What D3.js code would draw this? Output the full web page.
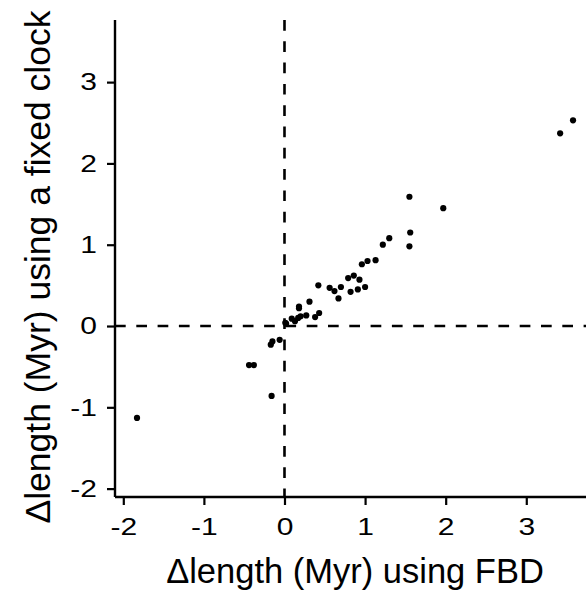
<!DOCTYPE html>
<html>
<head>
<meta charset="utf-8">
<script src="https://cdn.jsdelivr.net/npm/d3@7"></script>
<style>
  html, body { margin: 0; padding: 0; background: #fff; }
  svg { display: block; }
  text { font-family: "Liberation Sans", Arial, Helvetica, sans-serif; fill: #000; }
</style>
</head>
<body>
<svg id="chart" width="586" height="590"></svg>
<script>
// Δlength (Myr) using FBD
const fbd = [1.55, 1.97, 1.56, 1.55, 1.30, 1.22, 1.13, 1.03, 0.96, 0.86, 0.79, 0.93,
             1.00, 0.91, 0.82, 0.70, 0.56, 0.62, 0.67, 0.42, 0.31, 0.18, 0.18, 0.27,
             0.43, 0.38, 0.20, 0.17, 0.09, 0.13, 0.01, 0.02, -0.06, -0.15, -0.17,
             -0.44, -0.38, -0.16, 3.58, 3.42, -1.83];
// Δlength (Myr) using a fixed clock
const fixedClock = [1.59, 1.45, 1.15, 0.98, 1.08, 1.00, 0.81, 0.80, 0.76, 0.62, 0.59, 0.57,
             0.48, 0.45, 0.42, 0.48, 0.47, 0.43, 0.34, 0.50, 0.30, 0.24, 0.22, 0.13,
             0.16, 0.11, 0.12, 0.10, 0.09, 0.06, 0.04, 0.03, -0.17, -0.19, -0.23,
             -0.48, -0.48, -0.86, 2.53, 2.37, -1.13];
const xTicks = [-2, -1, 0, 1, 2, 3];
const yTicks = [-2, -1, 0, 1, 2, 3];
const xLabel = "Δlength (Myr) using FBD";
const yLabel = "Δlength (Myr) using a fixed clock";

const points = fbd.map((d, i) => ({x: d, y: fixedClock[i]}));

const svg = d3.select("#chart");
const plotLeft = 115, plotRight = 586, plotTop = 20, plotBottom = 497;
const tickStretch = 1.25;

const x = d3.scaleLinear().domain([-2.103, 3.741]).range([plotLeft, plotRight]);
const y = d3.scaleLinear().domain([-2.103, 3.764]).range([plotBottom, plotTop]);

// reference lines
svg.append("line")
  .attr("x1", x(0)).attr("x2", x(0))
  .attr("y1", y.range()[1]).attr("y2", y.range()[0])
  .attr("stroke", "#000").attr("stroke-width", 2.6)
  .attr("stroke-dasharray", "10.7,10.6");
svg.append("line")
  .attr("x1", x.range()[0]).attr("x2", x.range()[1])
  .attr("y1", y(0)).attr("y2", y(0))
  .attr("stroke", "#000").attr("stroke-width", 2.6)
  .attr("stroke-dasharray", "10.7,10.6");

// axes
const xAxis = d3.axisBottom(x).tickValues(xTicks).tickFormat(d => String(d)).tickSize(8).tickPadding(13);
const yAxis = d3.axisLeft(y).tickValues(yTicks).tickFormat(d => String(d)).tickSize(8).tickPadding(10);

const gx = svg.append("g").attr("transform", `translate(0,${plotBottom})`).call(xAxis);
const gy = svg.append("g").attr("transform", `translate(${plotLeft},0)`).call(yAxis);

[gx, gy].forEach(g => {
  g.attr("font-size", null).attr("font-family", null);
  g.select(".domain").attr("stroke", "#000").attr("stroke-width", 2.4);
  g.selectAll(".tick line").attr("stroke", "#000").attr("stroke-width", 2.2);
  g.selectAll(".tick text").attr("fill", "#000")
    .style("font-size", "24px")
    .style("font-family", '"Liberation Sans", Arial, sans-serif');
});
gx.selectAll(".tick text").attr("transform", `scale(${tickStretch},1)`);
gy.selectAll(".tick text")
  .attr("x", -18 / tickStretch)
  .attr("transform", `scale(${tickStretch},1)`);
gx.select(".domain").attr("d", `M${plotLeft},0H${plotRight}`);
gy.select(".domain").attr("d", `M0,${plotTop}V${plotBottom}`);

// points
svg.append("g").selectAll("circle")
  .data(points)
  .join("circle")
  .attr("cx", d => x(d.x))
  .attr("cy", d => y(d.y))
  .attr("r", 3.1)
  .attr("fill", "#000");

// titles
svg.append("text")
  .attr("x", 355).attr("y", 583)
  .attr("text-anchor", "middle")
  .style("font-size", "34.5px")
  .text(xLabel);

svg.append("text")
  .attr("transform", "translate(50,267) rotate(-90)")
  .attr("text-anchor", "middle")
  .style("font-size", "35.5px")
  .text(yLabel);
</script>
</body>
</html>
